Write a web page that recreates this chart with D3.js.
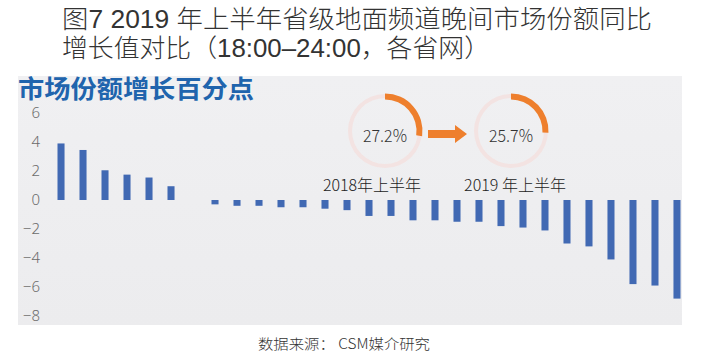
<!DOCTYPE html>
<html><head><meta charset="utf-8">
<script src="https://cdn.jsdelivr.net/npm/d3@7"></script>
<style>
html,body{margin:0;padding:0;background:#fff;}
svg{display:block;font-family:"Noto Sans CJK SC","Noto Sans",sans-serif;}
</style></head>
<body>
<svg id="chart" width="702" height="356"></svg>
<script>
const titleLines = ["图7  2019 年上半年省级地面频道晚间市场份额同比", "增长值对比（18:00–24:00，各省网）"];
const subtitle = "市场份额增长百分点";
const source = "数据来源：  CSM媒介研究";
const categories = d3.range(1, 30).map(i => "省网" + i);
const values = [3.9, 3.45, 2.05, 1.75, 1.55, 0.95, 0, -0.3, -0.4, -0.4, -0.5, -0.5, -0.6, -0.7, -1.1, -1.1, -1.4, -1.4, -1.5, -1.5, -1.8, -1.9, -2.1, -3.0, -3.2, -4.1, -5.8, -5.9, -6.8];
const yTicks = [6, 4, 2, 0, -2, -4, -6, -8];
const shareLabels = ["2018年上半年", "2019 年上半年"];
const shareValues = [27.2, 25.7];

const compactFont = '"Liberation Sans","Noto Sans CJK SC",sans-serif';
const svg = d3.select("#chart");

// title
svg.selectAll("text.title").data(titleLines).join("text")
  .attr("class", "title")
  .attr("x", 62).attr("y", (d, i) => 28 + i * 29)
  .attr("font-family", compactFont)
  .attr("font-size", 25).attr("font-weight", 300).attr("fill", "#333")
  .attr("textLength", (d, i) => i === 0 ? 590 : 428)
  .attr("lengthAdjust", "spacingAndGlyphs")
  .text(d => d);

// panel
const defs = svg.append("defs");
const grad = defs.append("linearGradient").attr("id", "bg").attr("x1", 0).attr("y1", 0).attr("x2", 0).attr("y2", 1);
grad.append("stop").attr("offset", "0%").attr("stop-color", "#f0f0f2");
grad.append("stop").attr("offset", "100%").attr("stop-color", "#ececee");
svg.append("rect").attr("x", 18).attr("y", 76).attr("width", 664).attr("height", 249).attr("fill", "url(#bg)");

svg.append("text").attr("x", 18).attr("y", 98)
  .attr("font-family", compactFont)
  .attr("font-size", 25).attr("font-weight", 700).attr("fill", "#2064ad")
  .attr("textLength", 236).attr("lengthAdjust", "spacingAndGlyphs")
  .text(subtitle);

// scales
const y = d3.scaleLinear().domain([-8, 6]).range([316, 113]);
const x = d3.scaleBand().domain(categories).range([46.5, 691.5]).paddingInner(0.68).paddingOuter(0.5);

// y axis labels
const yAxis = d3.axisLeft(y).tickValues(yTicks).tickSize(0).tickPadding(0)
  .tickFormat(d => d3.format("")(d).replace("-", "−"));
const gy = svg.append("g").attr("transform", "translate(40,0)").call(yAxis);
gy.select(".domain").remove();
gy.selectAll("text").attr("font-size", 15).attr("fill", "#6b6b6b").attr("font-weight", 300)
  .attr("font-family", '"Noto Sans","Liberation Sans",sans-serif');

// bars
svg.append("g").selectAll("rect").data(values).join("rect")
  .attr("x", (d, i) => x(categories[i]))
  .attr("width", x.bandwidth())
  .attr("y", d => y(Math.max(0, d)))
  .attr("height", d => Math.abs(y(d) - y(0)))
  .attr("fill", "#4169b3");

// donuts
const centers = [385, 511];
const labelCenters = [372, 515];
const cy = 131;
const arc = d3.arc().innerRadius(31.5).outerRadius(37.5);
const ring = d3.arc().innerRadius(33).outerRadius(37).startAngle(0).endAngle(2 * Math.PI);
shareValues.forEach((v, i) => {
  const g = svg.append("g").attr("transform", `translate(${centers[i]},${cy})`);
  g.append("path").attr("d", ring()).attr("fill", "#f3e3e2");
  g.append("path").attr("d", arc({startAngle: 0, endAngle: 2 * Math.PI * v / 100})).attr("fill", "#ee7f2d");
  g.append("text").attr("text-anchor", "middle").attr("y", 5).attr("dy", "0.35em")
    .attr("font-size", 17).attr("fill", "#333").attr("font-weight", 300)
    .attr("textLength", 44).attr("lengthAdjust", "spacingAndGlyphs")
    .text(d3.format(".1f")(v) + "%");
  g.append("text").attr("text-anchor", "middle").attr("x", labelCenters[i] - centers[i]).attr("y", 60)
    .attr("font-size", 16).attr("fill", "#222").attr("font-weight", 300)
    .text(shareLabels[i]);
});

// arrow
svg.append("path")
  .attr("d", "M428,130 L455,130 L455,125 L467,134 L455,143 L455,138 L428,138 Z")
  .attr("fill", "#ee7f2d");

// source
svg.append("text").attr("x", 258).attr("y", 349)
  .attr("font-size", 14).attr("fill", "#333").attr("font-weight", 300)
  .attr("textLength", 172).attr("lengthAdjust", "spacingAndGlyphs")
  .text(source);
</script>
</body></html>
